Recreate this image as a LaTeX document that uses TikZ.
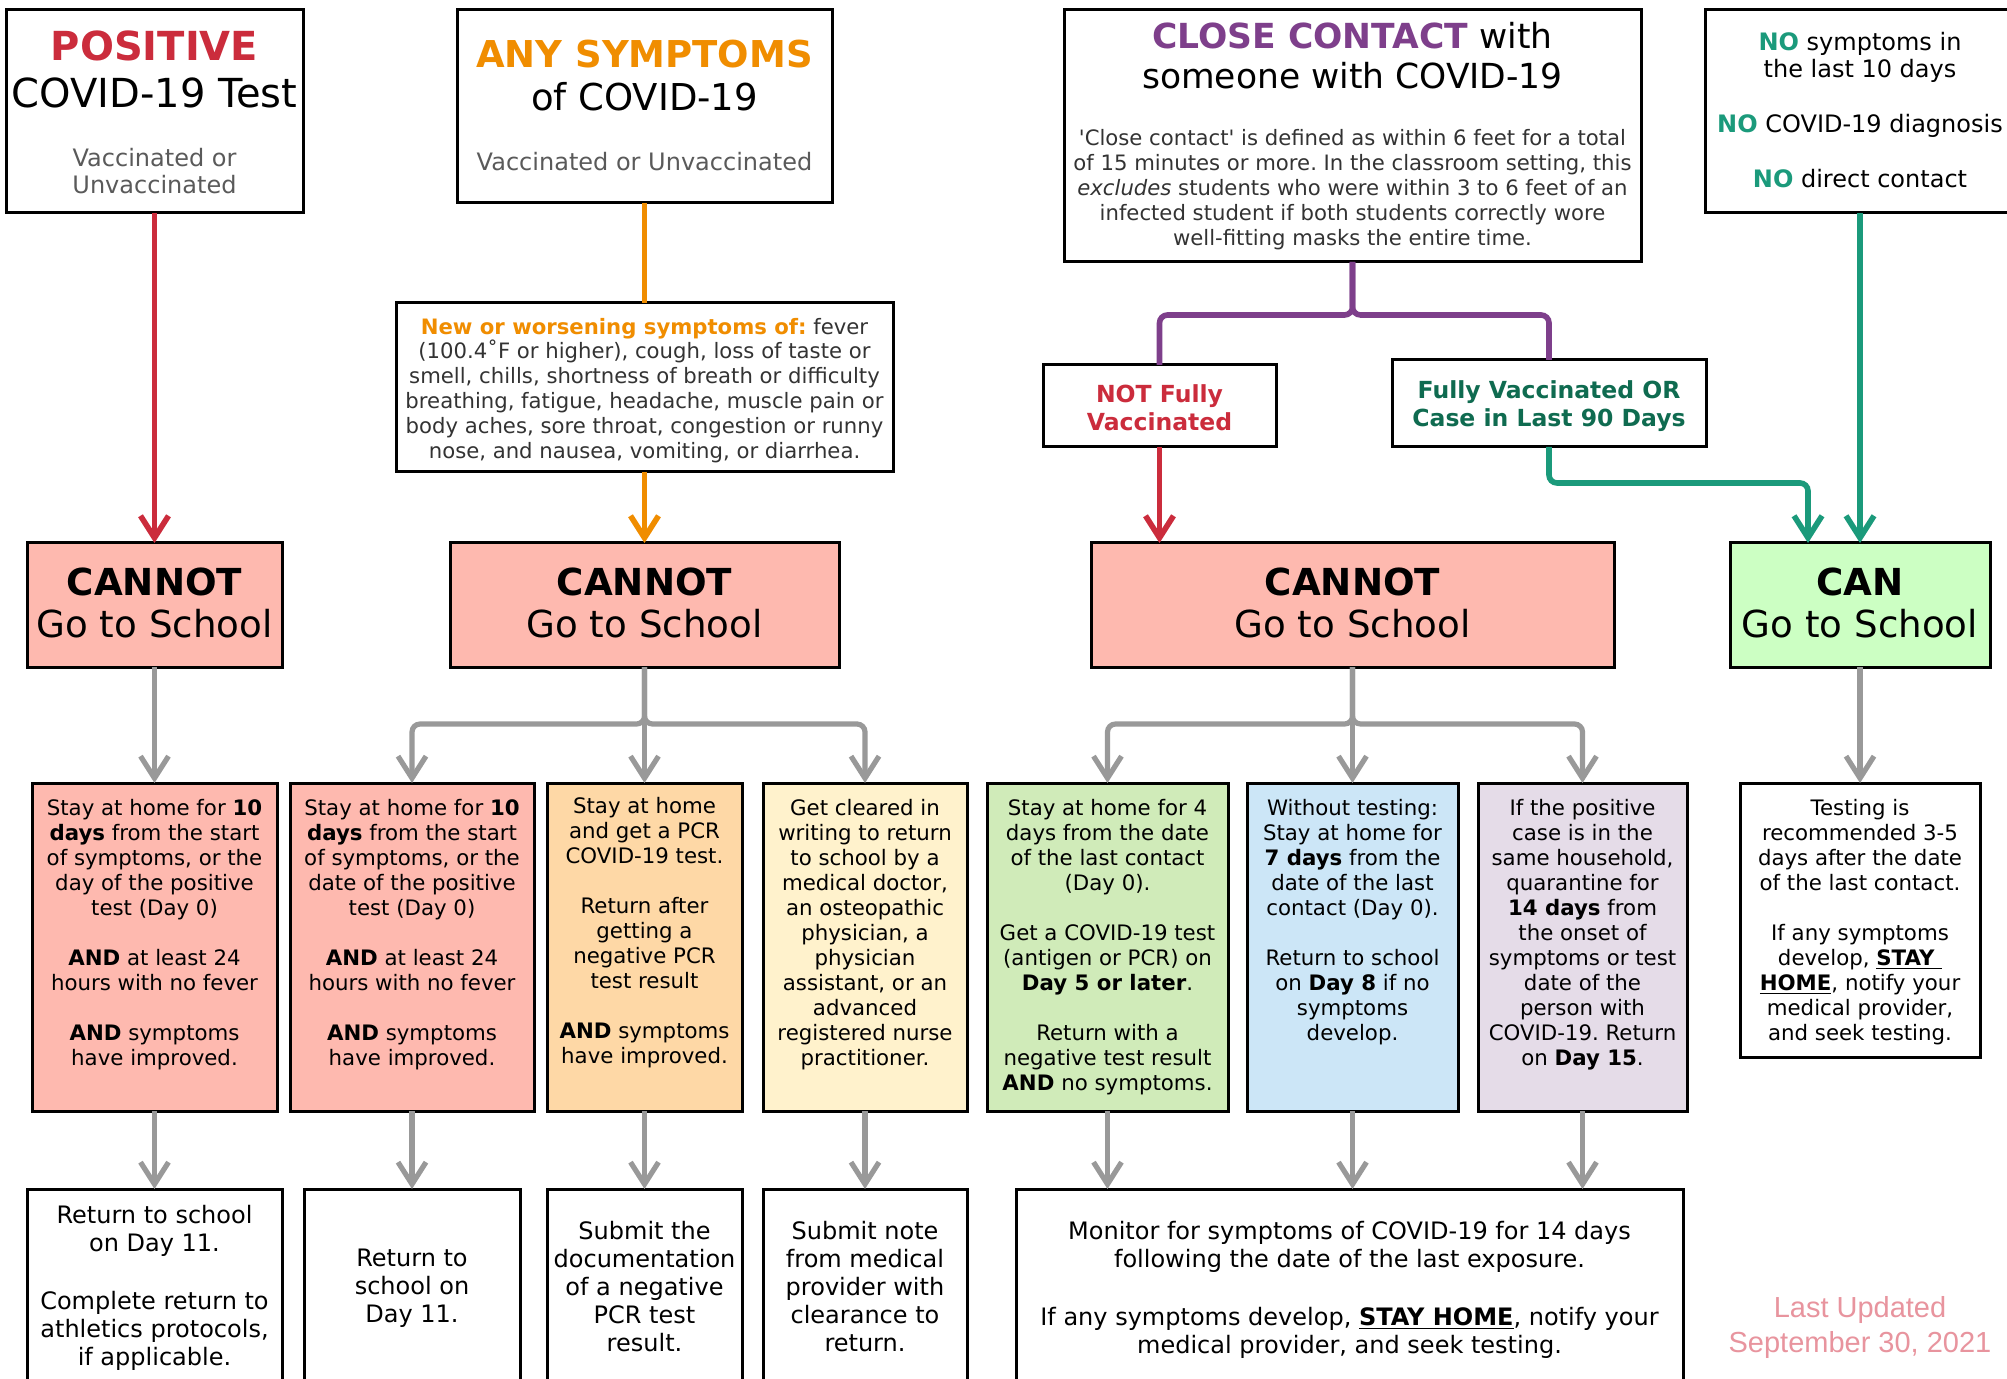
\documentclass[tikz,border=0pt]{standalone}
\usepackage{fontspec}
\setmainfont{DejaVu Sans}
\newfontfamily\libsans{Liberation Sans}
\usetikzlibrary{arrows.meta}
\frenchspacing
\definecolor{cred}{HTML}{CB2C3C}
\definecolor{corange}{HTML}{F08D00}
\definecolor{cpurple}{HTML}{7E3F8B}
\definecolor{cteal}{HTML}{1B9A7B}
\definecolor{cdkgreen}{HTML}{0F6B50}
\definecolor{fpink}{HTML}{FEB9AF}
\definecolor{forange}{HTML}{FED8A6}
\definecolor{fyellow}{HTML}{FFF2CC}
\definecolor{fgreen}{HTML}{D0EBB9}
\definecolor{fblue}{HTML}{CCE6F7}
\definecolor{flav}{HTML}{E5DCE8}
\definecolor{fcan}{HTML}{CCFFC3}
\definecolor{cgrayline}{HTML}{999999}
\definecolor{cgraytext}{HTML}{5A5A5A}
\definecolor{cdark}{HTML}{333333}
\definecolor{cpink}{HTML}{E8949E}
\newcommand\flowbox[6]{\node[box, fill=#6, minimum width={(#4-#2)*0.5pt}, minimum height={(#5-#3)*0.5pt}] (#1) at ({(#2+#4)/2},{(#3+#5)/2}) {};}
\begin{document}
\frenchspacing
\begin{tikzpicture}[x=0.5pt,y=-0.5pt,
  box/.style={draw=black, line width=1.5pt, inner sep=0pt, outer sep=0pt},
  txt/.style={inner sep=0pt, outer sep=0pt, align=center, anchor=north, execute at begin node=\frenchspacing},
  conn/.style={line width=2.8pt},
  gconn/.style={line width=2.6pt, draw=cgrayline},
  arr/.style={-{Straight Barb[length=11pt,width=14pt]}},
  fbody/.style={font=\fontsize{10.65pt}{12.5pt}\selectfont},
  fbig/.style={font=\fontsize{12pt}{14pt}\selectfont},
  fhead/.style={font=\fontsize{18.6pt}{21pt}\selectfont}]
\clip (0,0) rectangle (2007,1379);
\fill[white] (0,0) rectangle (2007,1379);
% ---------- boxes ----------
\flowbox{pos}{6}{10}{303}{213}{white}
\flowbox{any}{457}{10}{832}{203}{white}
\flowbox{sym}{396}{303}{893}{472}{white}
\flowbox{close}{1064}{10}{1641}{262}{white}
\flowbox{no}{1705}{10}{2015}{213}{white}
\flowbox{notf}{1043}{365}{1276}{447}{white}
\flowbox{fully}{1392}{360}{1706}{447}{white}
\flowbox{c1}{27}{543}{282}{667}{fpink}
\flowbox{c2}{450}{543}{839}{667}{fpink}
\flowbox{c3}{1091}{543}{1614}{667}{fpink}
\flowbox{can}{1730}{543}{1990}{667}{fcan}
\flowbox{m1}{32}{783}{277}{1111}{fpink}
\flowbox{m2}{290}{783}{534}{1111}{fpink}
\flowbox{m3}{547}{783}{742}{1111}{forange}
\flowbox{m4}{763}{783}{967}{1111}{fyellow}
\flowbox{m5}{987}{783}{1228}{1111}{fgreen}
\flowbox{m6}{1247}{783}{1458}{1111}{fblue}
\flowbox{m7}{1478}{783}{1687}{1111}{flav}
\flowbox{m8}{1740}{783}{1980}{1057}{white}
\flowbox{b1}{27}{1189}{282}{1400}{white}
\flowbox{b2}{304}{1189}{520}{1400}{white}
\flowbox{b3}{547}{1189}{742}{1400}{white}
\flowbox{b4}{763}{1189}{967}{1400}{white}
\flowbox{mon}{1016}{1189}{1683}{1400}{white}
% ---------- top texts ----------
\node[txt, font=\fontsize{20pt}{23.5pt}\selectfont] (t1) at (154.5,31) {{\color{cred}\textbf{POSITIVE}}\\COVID-19 Test};
\node[txt, font=\fontsize{12pt}{13.5pt}\selectfont, text=cgraytext] (t1b) at (154.5,148) {Vaccinated or\\Unvaccinated};
\node[txt, font=\fontsize{18.5pt}{21.5pt}\selectfont] (t2) at (644.5,40) {{\color{corange}\textbf{ANY SYMPTOMS}}\\of COVID-19};
\node[txt, anchor=base, font=\fontsize{12pt}{13.5pt}\selectfont, text=cgraytext] (t2b) at (644.5,171) {Vaccinated or Unvaccinated};
\node[txt, font=\fontsize{10.6pt}{12.4pt}\selectfont, text=cdark] (t3) at (644.5,318) {{\color{corange}\textbf{New or worsening symptoms of:}} fever\\(100.4˚F or higher), cough, loss of taste or\\smell, chills, shortness of breath or difficulty\\breathing, fatigue, headache, muscle pain or\\body aches, sore throat, congestion or runny\\nose, and nausea, vomiting, or diarrhea.};
\node[txt, font=\fontsize{17.25pt}{20pt}\selectfont] (t4) at (1352.5,22) {{\color{cpurple}\textbf{CLOSE CONTACT}} with\\someone with COVID-19};
\node[txt, font=\fontsize{10.6pt}{12.5pt}\selectfont, text=cdark] (t4b) at (1352.5,129) {\textquotesingle Close contact\textquotesingle{} is defined as within 6 feet for a total\\of 15 minutes or more. In the classroom setting, this\\\textit{excludes} students who were within 3 to 6 feet of an\\infected student if both students correctly wore\\well-fitting masks the entire time.};
\node[txt, font=\fontsize{12pt}{13.5pt}\selectfont] (t5) at (1860,32) {{\color{cteal}\textbf{NO}} symptoms in\\the last 10 days\\[14pt]{\color{cteal}\textbf{NO}} COVID-19 diagnosis\\[14pt]{\color{cteal}\textbf{NO}} direct contact};
\node[txt, font=\fontsize{11.75pt}{14pt}\selectfont, text=cred] (t6) at (1159.5,384.5) {\textbf{NOT Fully}\\\textbf{Vaccinated}};
\node[txt, font=\fontsize{11.75pt}{14pt}\selectfont, text=cdkgreen] (t7) at (1549,380.5) {\textbf{Fully Vaccinated OR}\\\textbf{Case in Last 90 Days}};
% ---------- decision texts ----------
\node[txt, fhead] (tc1) at (154.5,568) {\textbf{CANNOT}\\Go to School};
\node[txt, fhead] (tc2) at (644.5,568) {\textbf{CANNOT}\\Go to School};
\node[txt, fhead] (tc3) at (1352.5,568) {\textbf{CANNOT}\\Go to School};
\node[txt, fhead] (tc4) at (1860,568) {\textbf{CAN}\\Go to School};
% ---------- middle texts ----------
\node[txt, fbody] (tm1) at (154.5,799) {Stay at home for \textbf{10}\\\textbf{days} from the start\\of symptoms, or the\\day of the positive\\test (Day 0)\\[12.5pt]\textbf{AND} at least 24\\hours with no fever\\[12.5pt]\textbf{AND} symptoms\\have improved.};
\node[txt, fbody] (tm2) at (412,799) {Stay at home for \textbf{10}\\\textbf{days} from the start\\of symptoms, or the\\date of the positive\\test (Day 0)\\[12.5pt]\textbf{AND} at least 24\\hours with no fever\\[12.5pt]\textbf{AND} symptoms\\have improved.};
\node[txt, fbody] (tm3) at (644.5,797) {Stay at home\\and get a PCR\\COVID-19 test.\\[12.5pt]Return after\\getting a\\negative PCR\\test result\\[12.5pt]\textbf{AND} symptoms\\have improved.};
\node[txt, fbody] (tm4) at (865,799) {Get cleared in\\writing to return\\to school by a\\medical doctor,\\an osteopathic\\physician, a\\physician\\assistant, or an\\advanced\\registered nurse\\practitioner.};
\node[txt, fbody] (tm5) at (1107.5,799) {Stay at home for 4\\days from the date\\of the last contact\\(Day 0).\\[12.5pt]Get a COVID-19 test\\(antigen or PCR) on\\\textbf{Day 5 or later}.\\[12.5pt]Return with a\\negative test result\\\textbf{AND} no symptoms.};
\node[txt, fbody] (tm6) at (1352.5,799) {Without testing:\\Stay at home for\\\textbf{7 days} from the\\date of the last\\contact (Day 0).\\[12.5pt]Return to school\\on \textbf{Day 8} if no\\symptoms\\develop.};
\node[txt, fbody] (tm7) at (1582.5,799) {If the positive\\case is in the\\same household,\\quarantine for\\\textbf{14 days} from\\the onset of\\symptoms or test\\date of the\\person with\\COVID-19. Return\\on \textbf{Day 15}.};
\node[txt, fbody] (tm8) at (1860,799) {Testing is\\recommended 3-5\\days after the date\\of the last contact.\\[12.5pt]If any symptoms\\develop, \underline{\textbf{STAY }}\\\underline{\textbf{HOME}}, notify your\\medical provider,\\and seek testing.};
% ---------- bottom texts ----------
\node[txt, fbig] (tb1) at (154.5,1205) {Return to school\\on Day 11.\\[15pt]Complete return to\\athletics protocols,\\if applicable.};
\node[txt, fbig] (tb2) at (412,1249) {Return to\\school on\\Day 11.};
\node[txt, fbig] (tb3) at (644.5,1221) {Submit the\\documentation\\of a negative\\PCR test\\result.};
\node[txt, fbig] (tb4) at (865,1221) {Submit note\\from medical\\provider with\\clearance to\\return.};
\node[txt, fbig] (tb5) at (1349.5,1221) {Monitor for symptoms of COVID-19 for 14 days\\following the date of the last exposure.\\[15pt]If any symptoms develop, \underline{\textbf{STAY HOME}}, notify your\\medical provider, and seek testing.};
\node[txt, font=\libsans\fontsize{14.5pt}{17.5pt}\selectfont, text=cpink] (upd) at (1860,1296) {Last Updated\\September 30, 2021};
% ---------- connectors ----------
\draw[conn, cred, arr] (pos.south) -- (c1.north);
\draw[conn, corange] (any.south) -- (sym.north);
\draw[conn, corange, arr] (sym.south) -- (c2.north);
\draw[conn, cpurple, rounded corners=4pt] (close.south) -- ++(0,53) -| (notf.north);
\draw[conn, cpurple, rounded corners=4pt] (close.south) -- ++(0,53) -| (fully.north);
\draw[conn, cred, arr] (notf.south) -- (notf.south |- c3.north);
\coordinate (canin) at (1808,543);
\draw[conn, cteal, arr, rounded corners=4pt] (fully.south) -- ++(0,36) -| (canin);
\draw[conn, cteal, arr] (no.south) -- (can.north);
\draw[gconn, arr] (c1.south) -- (m1.north);
\draw[gconn, arr, rounded corners=4pt] (c2.south) -- ++(0,57) -| (m2.north);
\draw[gconn, arr, rounded corners=4pt] (c2.south) -- ++(0,57) -| (m4.north);
\draw[gconn, arr] (c2.south) -- (m3.north);
\draw[gconn, arr, rounded corners=4pt] (c3.south) -- ++(0,57) -| (m5.north);
\draw[gconn, arr, rounded corners=4pt] (c3.south) -- ++(0,57) -| (m7.north);
\draw[gconn, arr] (c3.south) -- (m6.north);
\draw[gconn, arr] (can.south) -- (m8.north);
\draw[gconn, arr] (m1.south) -- (b1.north);
\draw[gconn, arr] (m2.south) -- (b2.north);
\draw[gconn, arr] (m3.south) -- (b3.north);
\draw[gconn, arr] (m4.south) -- (b4.north);
\draw[gconn, arr] (m5.south) -- (m5.south |- mon.north);
\draw[gconn, arr] (m6.south) -- (m6.south |- mon.north);
\draw[gconn, arr] (m7.south) -- (m7.south |- mon.north);
\end{tikzpicture}
\end{document}
